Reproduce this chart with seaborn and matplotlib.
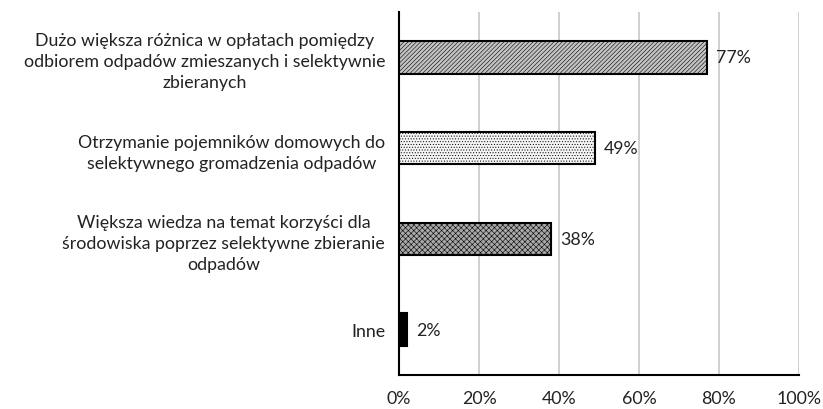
import matplotlib
matplotlib.use("Agg")
import matplotlib.pyplot as plt
import seaborn as sns
import pandas as pd
import numpy as np
from matplotlib.ticker import FuncFormatter

categories = [
    "Dużo większa różnica w opłatach pomiędzy\nodbiorem odpadów zmieszanych i selektywnie\nzbieranych",
    "Otrzymanie pojemników domowych do\nselektywnego gromadzenia odpadów",
    "Większa wiedza na temat korzyści dla\nśrodowiska poprzez selektywne zbieranie\nodpadów",
    "Inne",
]
values = [77, 49, 38, 2]
xticks = [0, 20, 40, 60, 80, 100]

sns.set_style("white")
plt.rcParams['font.family'] = ['Lato', 'DejaVu Sans']
plt.rcParams['hatch.linewidth'] = 0.4

df = pd.DataFrame({"cat": categories, "val": values})

fig = plt.figure(figsize=(8.23, 4.10), dpi=100)
ax = fig.add_axes([399 / 823, 34 / 410, 400 / 823, 363 / 410])

sns.barplot(data=df, x="val", y="cat", ax=ax, orient="h", width=0.36,
            color="white", edgecolor="black", linewidth=1.5, zorder=3)

# wypełnienia jak w Excelu
styles = [("#c4c4c4", "////////"), ("#f4f4f4", "......"), ("#a8a8a8", "xxxxxx"), ("black", "..")]
for p, (fc, h) in zip(ax.patches, styles):
    p.set_facecolor(fc)
    p.set_hatch(h)

fs = 12.8
for p, v in zip(ax.patches, values):
    ax.text(p.get_width() + 2.2, p.get_y() + p.get_height() / 2, f"{v}%",
            va="center", ha="left", fontsize=fs, color="#222222")

ax.set_xlim(0, 100)
ax.set_xticks(xticks)
ax.xaxis.set_major_formatter(FuncFormatter(lambda x, _: f"{x:.0f}%"))
ax.set_xlabel("")
ax.set_ylabel("")
ax.grid(axis="x", color="#c8c8c8", linewidth=1.2, zorder=0)
ax.grid(axis="y", visible=False)
ax.tick_params(axis="x", length=0, pad=11, labelsize=fs, labelcolor="#222222")
ax.tick_params(axis="y", length=0, pad=10, labelsize=fs, labelcolor="#222222")
for lbl in ax.get_yticklabels():
    lbl.set_multialignment("center")
    lbl.set_linespacing(1.38)

for s in ["top", "right"]:
    ax.spines[s].set_visible(False)
for s in ["left", "bottom"]:
    ax.spines[s].set_color("black")
    ax.spines[s].set_linewidth(1.5)

fig.savefig("out.png", dpi=100)
